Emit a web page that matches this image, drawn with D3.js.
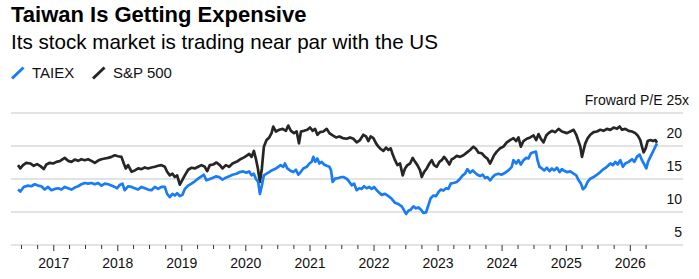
<!DOCTYPE html>
<meta charset="utf-8">

<head>
    <script src="https://d3js.org/d3.v7.min.js"></script>
    <style>
        body {
            margin: 0;
            background: #fff;
            font-family: "Liberation Sans", Arial, Helvetica, sans-serif;
        }

        .title {
            font-size: 22px;
            font-weight: bold;
            fill: #000;
        }

        .subtitle {
            font-size: 20.6px;
            fill: #000;
        }

        .legend text,
        .ylab,
        .xlab {
            font-size: 14px;
            fill: #111;
        }

        .legend text {
            font-size: 15px;
        }
    </style>
</head>

<body>
    <div class='viz'></div>

    <script>
        // forward P/E, [decimal year, value]
        var sp500 = [
            [2016.443, 17.1], [2016.479, 16.6], [2016.521, 17.1], [2016.573, 17.45], [2016.635, 17.35],
            [2016.688, 17.0], [2016.740, 17.25], [2016.792, 16.95], [2016.844, 16.5], [2016.885, 17.2],
            [2016.938, 17.45], [2016.990, 17.35], [2017.042, 17.6], [2017.094, 17.7], [2017.172, 18.2],
            [2017.224, 17.75], [2017.276, 17.6], [2017.328, 17.95], [2017.380, 17.75], [2017.432, 18.0],
            [2017.484, 17.85], [2017.536, 18.0], [2017.589, 17.75], [2017.641, 17.45], [2017.693, 17.8],
            [2017.745, 18.0], [2017.797, 18.1], [2017.849, 18.2], [2017.901, 18.35], [2017.953, 18.6],
            [2018.005, 18.45], [2018.057, 18.35], [2018.094, 17.35], [2018.125, 16.6], [2018.161, 17.1],
            [2018.214, 16.1], [2018.266, 16.3], [2018.318, 16.6], [2018.370, 16.5], [2018.422, 16.75],
            [2018.474, 16.6], [2018.526, 16.75], [2018.578, 16.85], [2018.630, 17.0], [2018.682, 17.1],
            [2018.734, 16.85], [2018.771, 16.1], [2018.813, 15.55], [2018.854, 15.8], [2018.891, 15.3],
            [2018.927, 15.55], [2018.969, 14.15], [2019.005, 14.8], [2019.047, 15.55], [2019.099, 16.4],
            [2019.151, 16.7], [2019.203, 16.6], [2019.255, 16.85], [2019.307, 17.1], [2019.359, 16.85],
            [2019.396, 16.2], [2019.438, 17.1], [2019.490, 17.2], [2019.542, 17.5], [2019.594, 17.1],
            [2019.635, 16.6], [2019.688, 17.1], [2019.740, 16.85], [2019.792, 17.35], [2019.854, 17.6],
            [2019.906, 17.95], [2019.958, 18.2], [2020.010, 18.5], [2020.052, 18.8], [2020.089, 18.35],
            [2020.125, 19.25], [2020.156, 18.1], [2020.188, 16.6], [2020.219, 14.55], [2020.250, 16.6],
            [2020.281, 19.9], [2020.323, 20.9], [2020.365, 21.3], [2020.401, 21.95], [2020.427, 22.95],
            [2020.469, 22.2], [2020.521, 22.45], [2020.573, 22.6], [2020.625, 22.3], [2020.661, 23.1],
            [2020.703, 22.3], [2020.750, 21.95], [2020.792, 22.2], [2020.828, 20.4], [2020.859, 22.2],
            [2020.906, 22.3], [2020.958, 22.45], [2021.000, 22.8], [2021.042, 22.3], [2021.078, 22.6],
            [2021.115, 21.7], [2021.156, 22.1], [2021.208, 22.2], [2021.260, 22.6], [2021.302, 21.95],
            [2021.354, 21.6], [2021.406, 21.3], [2021.458, 21.45], [2021.510, 21.2], [2021.573, 21.1],
            [2021.625, 21.3], [2021.677, 21.1], [2021.729, 20.55], [2021.781, 20.9], [2021.833, 21.7],
            [2021.875, 21.45], [2021.911, 20.75], [2021.948, 21.45], [2021.990, 21.2], [2022.031, 20.4],
            [2022.068, 19.9], [2022.104, 19.55], [2022.146, 19.25], [2022.188, 19.75], [2022.224, 19.4],
            [2022.260, 19.65], [2022.292, 18.7], [2022.328, 17.85], [2022.365, 17.1], [2022.406, 17.35],
            [2022.448, 15.55], [2022.484, 16.6], [2022.521, 17.1], [2022.563, 17.35], [2022.604, 18.2],
            [2022.641, 17.6], [2022.677, 17.1], [2022.719, 16.3], [2022.745, 15.3], [2022.781, 16.05],
            [2022.823, 16.6], [2022.865, 17.35], [2022.901, 17.85], [2022.938, 17.1], [2022.979, 16.85],
            [2023.021, 17.6], [2023.057, 17.85], [2023.094, 18.35], [2023.135, 17.85], [2023.177, 17.2],
            [2023.214, 18.0], [2023.240, 18.1], [2023.292, 18.5], [2023.344, 18.35], [2023.396, 18.6],
            [2023.448, 19.0], [2023.500, 19.4], [2023.552, 19.9], [2023.594, 19.55], [2023.630, 19.0],
            [2023.682, 18.9], [2023.734, 18.35], [2023.771, 18.1], [2023.813, 17.35], [2023.839, 17.85],
            [2023.875, 18.6], [2023.917, 19.15], [2023.969, 19.65], [2024.021, 19.9], [2024.073, 20.55],
            [2024.125, 20.9], [2024.177, 21.2], [2024.219, 20.75], [2024.255, 21.3], [2024.292, 19.9],
            [2024.333, 20.75], [2024.385, 21.1], [2024.438, 21.3], [2024.490, 21.6], [2024.531, 20.9],
            [2024.568, 21.8], [2024.604, 21.1], [2024.646, 20.55], [2024.688, 21.6], [2024.724, 21.95],
            [2024.776, 22.3], [2024.828, 22.1], [2024.880, 22.6], [2024.932, 22.2], [2025.010, 21.95],
            [2025.063, 22.2], [2025.115, 22.45], [2025.156, 21.7], [2025.193, 20.65], [2025.219, 19.9],
            [2025.245, 18.35], [2025.271, 19.4], [2025.297, 20.4], [2025.333, 21.15], [2025.375, 21.7],
            [2025.427, 22.1], [2025.479, 22.2], [2025.531, 22.45], [2025.583, 22.3], [2025.635, 22.6],
            [2025.688, 22.45], [2025.740, 22.8], [2025.792, 22.6], [2025.833, 22.95], [2025.870, 22.45],
            [2025.922, 22.6], [2025.974, 22.3], [2026.026, 22.2], [2026.078, 21.95], [2026.115, 21.6],
            [2026.156, 20.9], [2026.182, 19.9], [2026.208, 19.05], [2026.240, 19.65], [2026.271, 20.75],
            [2026.313, 20.9], [2026.354, 20.75], [2026.391, 20.9], [2026.417, 20.5]
        ];

        var taiex = [
            [2016.443, 13.4], [2016.479, 13.1], [2016.531, 13.8], [2016.599, 14.0], [2016.651, 13.9],
            [2016.703, 14.2], [2016.755, 14.0], [2016.807, 13.9], [2016.859, 13.4], [2016.911, 13.8],
            [2016.964, 13.3], [2017.016, 13.5], [2017.068, 13.6], [2017.120, 13.4], [2017.172, 13.8],
            [2017.224, 13.6], [2017.276, 13.4], [2017.328, 13.7], [2017.380, 13.9], [2017.432, 14.2],
            [2017.484, 14.4], [2017.536, 14.3], [2017.589, 14.4], [2017.641, 14.2], [2017.693, 14.4],
            [2017.745, 14.0], [2017.797, 14.3], [2017.849, 14.2], [2017.901, 14.0], [2017.953, 13.8],
            [2017.990, 13.6], [2018.031, 14.1], [2018.073, 14.3], [2018.109, 13.3], [2018.161, 13.9],
            [2018.214, 13.8], [2018.266, 13.6], [2018.318, 13.4], [2018.370, 13.8], [2018.422, 13.6],
            [2018.474, 13.4], [2018.526, 13.3], [2018.578, 13.8], [2018.630, 13.5], [2018.682, 13.8],
            [2018.734, 13.8], [2018.771, 12.75], [2018.813, 12.25], [2018.854, 12.75], [2018.891, 12.5],
            [2018.927, 12.85], [2018.969, 12.4], [2019.010, 12.6], [2019.047, 13.5], [2019.099, 14.0],
            [2019.151, 14.3], [2019.203, 14.65], [2019.255, 15.05], [2019.307, 15.4], [2019.344, 15.65],
            [2019.385, 14.8], [2019.427, 14.95], [2019.479, 15.15], [2019.531, 15.4], [2019.583, 15.3],
            [2019.635, 14.9], [2019.688, 15.2], [2019.740, 15.4], [2019.792, 15.65], [2019.854, 15.8],
            [2019.906, 16.05], [2019.958, 16.15], [2020.010, 15.95], [2020.052, 16.15], [2020.089, 15.55],
            [2020.125, 15.8], [2020.156, 15.05], [2020.193, 14.55], [2020.219, 12.75], [2020.250, 14.0],
            [2020.281, 15.55], [2020.323, 15.8], [2020.365, 16.05], [2020.401, 16.3], [2020.453, 16.5],
            [2020.505, 16.85], [2020.542, 17.1], [2020.583, 16.85], [2020.609, 17.35], [2020.646, 16.6],
            [2020.688, 16.3], [2020.740, 16.05], [2020.781, 16.4], [2020.818, 15.65], [2020.854, 16.05],
            [2020.896, 16.6], [2020.948, 16.85], [2020.990, 17.35], [2021.026, 17.6], [2021.052, 18.35],
            [2021.083, 17.6], [2021.115, 18.1], [2021.146, 17.35], [2021.182, 17.6], [2021.219, 17.2],
            [2021.260, 17.0], [2021.302, 16.85], [2021.328, 16.3], [2021.354, 14.55], [2021.391, 15.05],
            [2021.443, 15.15], [2021.495, 15.3], [2021.521, 15.3], [2021.573, 15.05], [2021.615, 14.55],
            [2021.651, 14.05], [2021.688, 14.3], [2021.729, 13.3], [2021.771, 13.6], [2021.807, 13.5],
            [2021.844, 13.9], [2021.885, 13.6], [2021.927, 13.8], [2021.964, 13.5], [2022.000, 13.8],
            [2022.042, 13.3], [2022.083, 12.9], [2022.120, 12.6], [2022.172, 12.75], [2022.224, 12.4],
            [2022.276, 12.0], [2022.328, 11.4], [2022.380, 11.2], [2022.432, 10.85], [2022.458, 10.45],
            [2022.500, 9.7], [2022.536, 10.2], [2022.573, 10.35], [2022.615, 10.85], [2022.656, 10.55],
            [2022.693, 10.7], [2022.734, 10.35], [2022.771, 9.85], [2022.813, 9.95], [2022.849, 11.05],
            [2022.885, 12.1], [2022.927, 12.5], [2022.969, 12.4], [2023.005, 13.0], [2023.042, 13.4],
            [2023.083, 13.25], [2023.125, 13.6], [2023.161, 13.5], [2023.198, 14.3], [2023.240, 14.4],
            [2023.292, 14.55], [2023.344, 15.05], [2023.385, 15.55], [2023.422, 15.8], [2023.458, 16.5],
            [2023.500, 15.95], [2023.542, 16.3], [2023.578, 15.95], [2023.615, 15.65], [2023.656, 15.45],
            [2023.698, 15.65], [2023.734, 15.15], [2023.771, 15.3], [2023.813, 14.8], [2023.854, 15.3],
            [2023.891, 15.65], [2023.943, 15.8], [2023.995, 15.65], [2024.047, 15.95], [2024.099, 16.3],
            [2024.151, 16.85], [2024.177, 17.85], [2024.219, 17.35], [2024.255, 17.85], [2024.292, 17.2],
            [2024.333, 17.85], [2024.375, 18.2], [2024.411, 18.1], [2024.448, 18.9], [2024.490, 19.05],
            [2024.526, 19.15], [2024.552, 17.85], [2024.583, 16.85], [2024.620, 16.6], [2024.656, 16.3],
            [2024.698, 16.7], [2024.740, 16.2], [2024.776, 16.6], [2024.813, 16.3], [2024.854, 16.7],
            [2024.896, 16.05], [2024.932, 16.5], [2024.958, 16.3], [2025.010, 16.05], [2025.063, 16.15],
            [2025.115, 15.8], [2025.156, 15.55], [2025.193, 14.8], [2025.229, 14.3], [2025.260, 13.45],
            [2025.297, 13.8], [2025.333, 14.55], [2025.375, 15.05], [2025.427, 15.3], [2025.479, 15.65],
            [2025.531, 16.05], [2025.583, 16.5], [2025.635, 16.85], [2025.688, 17.35], [2025.729, 17.1],
            [2025.766, 17.6], [2025.802, 17.2], [2025.844, 17.85], [2025.885, 16.85], [2025.922, 17.35],
            [2025.974, 17.6], [2026.026, 18.0], [2026.063, 17.6], [2026.104, 18.35], [2026.146, 18.7],
            [2026.182, 17.85], [2026.219, 17.2], [2026.250, 16.6], [2026.276, 17.6], [2026.313, 18.35],
            [2026.354, 19.15], [2026.391, 19.9], [2026.417, 20.4]
        ];

        var yTicks = [5, 10, 15, 20, 25];
        var seriesNames = ['TAIEX', 'S&P 500'];
        var seriesColors = ['#1a7cf5', '#262626'];

        var width = 699,
            height = 279;

        function toDate(yr) {
            var y0 = Math.floor(yr);
            var a = new Date(y0, 0, 1), b = new Date(y0 + 1, 0, 1);
            return new Date(+a + (yr - y0) * (b - a));
        }

        var allDates = taiex.concat(sp500).map(function(d) { return toDate(d[0]); });

        var x = d3.scaleTime()
            .domain(d3.extent(allDates))
            .range([18, 657]);

        var y = d3.scaleLinear()
            .domain([5, 25])
            .range([245, 113]);

        var svg = d3.select("div.viz").append("svg")
            .attr("width", width)
            .attr("height", height);

        // titles
        svg.append("text").attr("class", "title").attr("x", 11).attr("y", 22)
            .text("Taiwan Is Getting Expensive");
        svg.append("text").attr("class", "subtitle").attr("x", 11).attr("y", 49)
            .text("Its stock market is trading near par with the US");

        // legend
        var legend = svg.append("g").attr("class", "legend");
        var legX = [12, 93];
        seriesNames.forEach(function(name, i) {
            legend.append("line")
                .attr("x1", legX[i]).attr("y1", 78.5)
                .attr("x2", legX[i] + 11.5).attr("y2", 67.5)
                .style("stroke", seriesColors[i])
                .style("stroke-width", 3);
            legend.append("text")
                .attr("x", legX[i] + 20).attr("y", 78)
                .text(name);
        });

        // grid
        svg.append("g").selectAll("line")
            .data(yTicks)
            .enter().append("line")
            .attr("x1", 11).attr("x2", 683)
            .attr("y1", function(d) { return y(d); })
            .attr("y2", function(d) { return y(d); })
            .style("stroke", "#dadada")
            .style("stroke-width", 1.3);

        svg.append("g").selectAll("text")
            .data(yTicks)
            .enter().append("text")
            .attr("class", "ylab")
            .attr("x", 682)
            .attr("y", function(d) { return y(d) - 8; })
            .attr("text-anchor", "end")
            .text(function(d) { return d === 25 ? "Froward P/E 25" : d; });

        svg.append("text").attr("class", "ylab")
            .attr("x", 682).attr("y", y(25) - 8)
            .text("x");

        // x axis: quarterly ticks, year labels
        var qTicks = x.ticks(d3.timeMonth.every(3));
        svg.append("g").selectAll("line")
            .data(qTicks)
            .enter().append("line")
            .attr("x1", function(d) { return x(d); })
            .attr("x2", function(d) { return x(d); })
            .attr("y1", 245)
            .attr("y2", function(d) { return d.getMonth() === 0 ? 251 : 249; })
            .style("stroke", "#333")
            .style("stroke-width", 1);

        svg.append("g").selectAll("text")
            .data(qTicks.filter(function(d) { return d.getMonth() === 0; }))
            .enter().append("text")
            .attr("class", "xlab")
            .attr("x", function(d) { return x(d); })
            .attr("y", 268)
            .attr("text-anchor", "middle")
            .text(d3.timeFormat("%Y"));

        // lines
        var line = d3.line()
            .x(function(d) { return x(toDate(d[0])); })
            .y(function(d) { return y(d[1]); });

        [sp500, taiex].forEach(function(s, i) {
            svg.append("path")
                .datum(s)
                .attr("d", line)
                .style("fill", "none")
                .style("stroke", i === 0 ? seriesColors[1] : seriesColors[0])
                .style("stroke-width", 2.7)
                .style("stroke-linejoin", "round");
        });
    </script>
</body>
